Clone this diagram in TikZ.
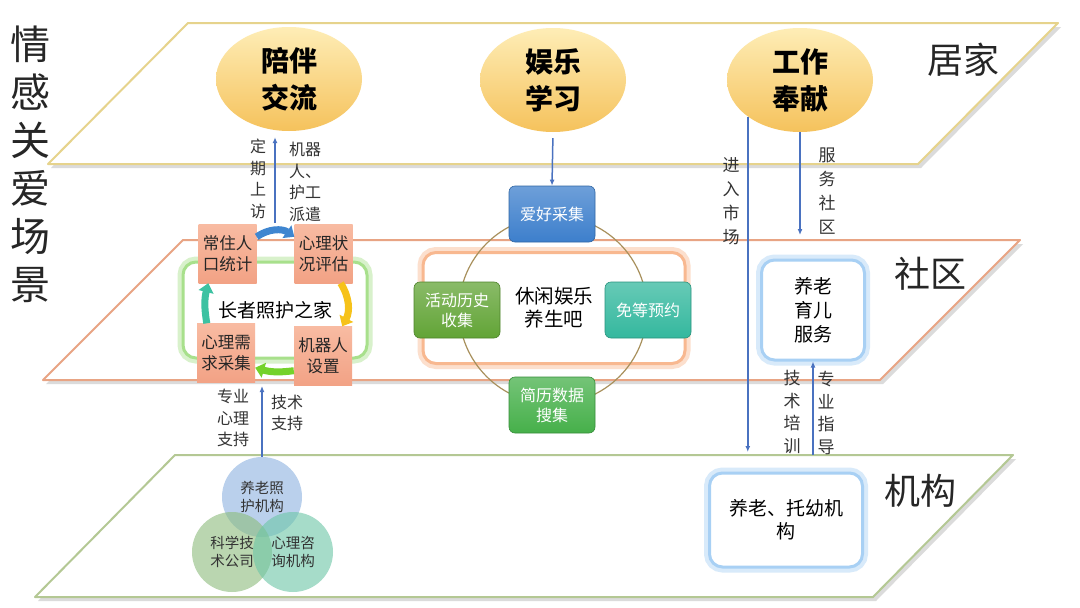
\documentclass[tikz,border=0pt]{standalone}
\usepackage{fontspec}
\setmainfont{Noto Sans CJK SC}
\usetikzlibrary{arrows.meta,shapes.geometric}

\definecolor{goldline}{HTML}{E6D38C}
\definecolor{salmonline}{HTML}{E8A484}
\definecolor{greenline}{HTML}{B4C894}
\definecolor{ellTop}{HTML}{FEEDB6}
\definecolor{ellBot}{HTML}{F5C25C}
\definecolor{boxTop}{HTML}{F8BBA2}
\definecolor{boxBot}{HTML}{F2A285}
\definecolor{linkblue}{HTML}{4A72C0}
\definecolor{hobby}{HTML}{3D7FCC}
\definecolor{history}{HTML}{62A436}
\definecolor{booking}{HTML}{34B89E}
\definecolor{resume}{HTML}{46B04A}
\definecolor{ringcol}{HTML}{A8905C}
\definecolor{arrBlue}{HTML}{3F86D0}
\definecolor{arrYellow}{HTML}{F6C21A}
\definecolor{arrGreen}{HTML}{74D22A}
\definecolor{arrTeal}{HTML}{3CC2A2}
\definecolor{glowGreen}{HTML}{A8E08C}
\definecolor{glowOrange}{HTML}{F8B890}
\definecolor{glowBlue}{HTML}{A8D0F4}
\definecolor{vennBlue}{HTML}{8CB2E0}
\definecolor{vennGreen}{HTML}{8CBC7C}
\definecolor{vennTeal}{HTML}{6CC6A6}

\tikzset{
  scene/.style={ellipse, minimum width=146pt, minimum height=104pt, inner sep=0pt,
    top color=ellTop, bottom color=ellBot, align=center,
    font=\fontsize{28}{37}\selectfont\bfseries},
  carebox/.style={minimum width=58pt, minimum height=59pt, inner sep=0pt,
    top color=boxTop, bottom color=boxBot, align=center, text=black!85,
    font=\fontsize{16.5}{21}\selectfont},
  funbox/.style={rounded corners=6pt, minimum width=86pt, minimum height=56pt, inner sep=0pt,
    top color=#1!75!white, bottom color=#1, draw=#1!80!black, line width=.6pt,
    text=white, align=center, font=\fontsize{16}{20}\selectfont},
  glow/.style={rounded corners=13pt, fill=white, draw=#1, line width=3pt,
    preaction={draw=#1!45, line width=11pt}, align=center},
  cyclearrow/.style={draw=#1, line width=7pt, -{Triangle[width=15pt,length=9pt]}},
  link/.style={draw=linkblue, line width=1.5pt, -{Latex[length=6pt,width=5pt]}},
  tag/.style={inner sep=0pt, align=center, text=black!80, font=\fontsize{16}{21.5}\selectfont},
  venn/.style={circle, minimum size=80pt, inner sep=0pt, fill=#1, fill opacity=.6,
    text opacity=1, align=center, text=black!80, font=\fontsize{14.5}{18}\selectfont},
  level/.style={font=\fontsize{36}{40}\selectfont, text=black!85},
}

\begin{document}
\begin{tikzpicture}[x=1pt,y=-1pt]
	\useasboundingbox[fill=white] (0,0) rectangle (1080,608);

	% the three planes
	\foreach \xa/\ya/\xb/\yb/\col in {188/23/1058/164/goldline,183/240/1020/380/salmonline,175/455/1013/597/greenline}{
		\fill[black!14] ({\xa+3},{\ya+4}) -- ({\xb+3},{\ya+4}) -- ({\xb-140+3},{\yb+4}) -- ({\xa-140+3},{\yb+4}) -- cycle;
		\draw[fill=white,draw=\col,line width=2pt,line join=round] (\xa,\ya) -- (\xb,\ya) -- ({\xb-140},\yb) -- ({\xa-140},\yb) -- cycle;
	}

	\node[font=\fontsize{40}{48}\selectfont,align=center,text=black!85] (title) at (30,164) {情\\感\\关\\爱\\场\\景};

	\node[level] (home) at (963,60) {居家};
	\node[level] (community) at (930,274) {社区};
	\node[level] (agency) at (920,491) {机构};

	\node[scene] (pb) at (289,79) {陪伴\\交流};
	\node[scene] (yl) at (553,80) {娱乐\\学习};
	\node[scene] (gz) at (800,80) {工作\\奉献};

	% elder care home
	\node[glow=glowGreen,minimum width=184pt,minimum height=96pt,font=\fontsize{19}{23}\selectfont] (care) at (275,310) {长者照护之家};
	\node[carebox] (cz) at (227.5,253.5) {常住人\\口统计};
	\node[carebox] (xl) at (323.5,253.5) {心理状\\况评估};
	\node[carebox] (jq) at (323,356) {机器人\\设置};
	\node[carebox] (xq) at (226,353) {心理需\\求采集};

	\draw[cyclearrow=arrBlue] ([yshift=-13pt]cz.north east) to[bend left=35] ([yshift=-13pt]xl.north west);
	\draw[cyclearrow=arrYellow] ([xshift=-12pt]xl.south east) to[bend left=30] ([xshift=-10pt]jq.north east);
	\draw[cyclearrow=arrGreen] ([yshift=15pt]jq.south west) to[bend left=12] ([yshift=15pt]xq.south east);
	\draw[cyclearrow=arrTeal] ([xshift=10pt]xq.north west) to[bend left=12] ([xshift=10pt]cz.south west);

	% leisure bar
	\node[glow=glowOrange,minimum width=262pt,minimum height=111pt,font=\fontsize{19.5}{23}\selectfont] (bar) at (554,308) {休闲娱乐\\养生吧};
	\node[circle,draw=ringcol,line width=1.2pt,minimum size=188pt] (ring) at (553,310) {};
	\node[funbox=hobby] (ah) at (552,214) {爱好采集};
	\node[funbox=history] (hd) at (457,310) {活动历史\\收集};
	\node[funbox=booking] (md) at (648,310) {免等预约};
	\node[funbox=resume] (jl) at (552,405) {简历数据\\搜集};

	% services
	\node[glow=glowBlue,minimum width=103pt,minimum height=100pt,font=\fontsize{19}{24}\selectfont] (yy) at (813,310) {养老\\育儿\\服务};
	\node[glow=glowBlue,minimum width=153pt,minimum height=94pt,font=\fontsize{19}{23}\selectfont] (ty) at (786,520) {养老、托幼机\\构};

	% support institutions
	\node[venn=vennBlue] (va) at (262,497) {养老照\\护机构};
	\node[venn=vennGreen] (vb) at (232,552) {科学技\\术公司};
	\node[venn=vennTeal] (vc) at (293,552) {心理咨\\询机构};

	% connectors
	\coordinate (pbfoot) at (275,223);
	\coordinate (mk) at (gz.-145 |- 0,452);
	\coordinate (sq) at (gz.south |- 0,235);
	\coordinate (jp) at (yy.south |- 0,455);
	\coordinate (vt) at (va.north |- 0,386);
	\draw[link,shorten >=6pt] (pbfoot) -- (pbfoot |- pb.south);
	\draw[link,shorten <=6pt] (yl.south) -- (ah.north);
	\draw[link] (gz.-145) -- (mk);
	\draw[link] (gz.south) -- (sq);
	\draw[link] (jp) -- (yy.south);
	\draw[link] (va.north) -- (vt);

	\node[tag] (visit) at (258,179) {定\\期\\上\\访};
	\node[tag] (send) at (305,182) {机器\\人、\\护工\\派遣};
	\node[tag] (psy) at (233,418) {专业\\心理\\支持};
	\node[tag] (tech) at (287,413) {技术\\支持};
	\node[tag,font=\fontsize{17}{24}\selectfont] (market) at (731,201) {进\\入\\市\\场};
	\node[tag,font=\fontsize{17}{24}\selectfont] (serve) at (827,191) {服\\务\\社\\区};
	\node[tag,font=\fontsize{17}{22.5}\selectfont] (train) at (792,412) {技\\术\\培\\训};
	\node[tag,font=\fontsize{17}{22.5}\selectfont] (guide) at (826,413) {专\\业\\指\\导};
\end{tikzpicture}
\end{document}
